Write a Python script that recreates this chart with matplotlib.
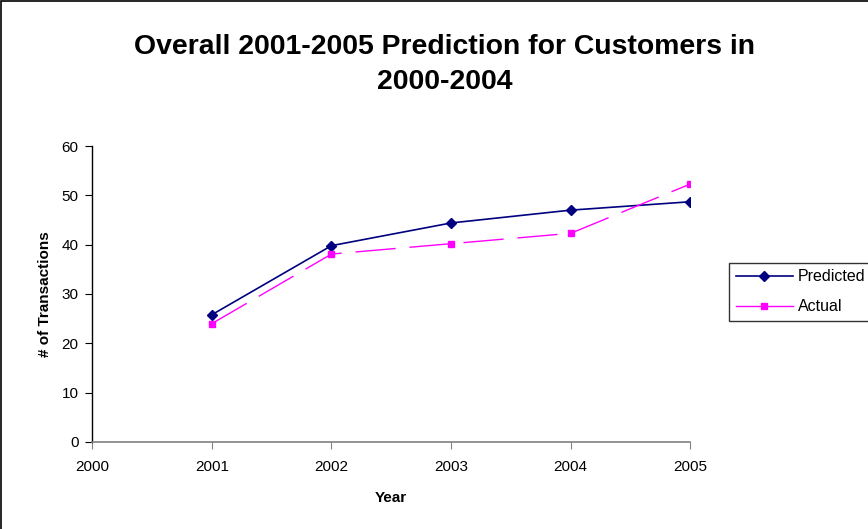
import matplotlib
matplotlib.use("Agg")
import matplotlib.pyplot as plt
from matplotlib.lines import Line2D
from matplotlib.patches import Rectangle

plt.rcParams['font.family'] = ['Liberation Sans', 'DejaVu Sans']

# yearly transaction counts
years = [2001, 2002, 2003, 2004, 2005]
predicted = [25.8, 39.8, 44.4, 47.0, 48.7]
actual = [24.0, 38.1, 40.2, 42.3, 52.3]

x_ticks = [2000, 2001, 2002, 2003, 2004, 2005]
y_ticks = [0, 10, 20, 30, 40, 50, 60]

navy = '#000080'
magenta = '#FF00FF'

fig = plt.figure(figsize=(8.68, 5.29), dpi=100)
ax = fig.add_axes([0.1063, 0.1645, 0.689, 0.5595])

ax.plot(years, predicted, color=navy, lw=1.2, marker='D', ms=5,
        mec=navy, mfc=navy)
ax.plot(years, actual, color=magenta, lw=1.0, marker='s', ms=5,
        mec=magenta, mfc=magenta, dashes=(29, 10))

ax.set_xlim(2000, 2005)
ax.set_ylim(0, 60)
ax.set_xticks(x_ticks)
ax.set_yticks(y_ticks)
ax.tick_params(axis='both', labelsize=11, direction='out', length=5)
ax.tick_params(axis='x', colors='#808080', labelcolor='black', pad=8)
ax.tick_params(axis='y', pad=5)

for side in ('top', 'right'):
    ax.spines[side].set_visible(False)
ax.spines['bottom'].set_color('#808080')
ax.spines['left'].set_color('black')
ax.spines['left'].set_linewidth(1.0)
ax.spines['bottom'].set_linewidth(1.2)

ax.set_xlabel('Year', fontsize=11, fontweight='bold', labelpad=12)
ax.set_ylabel('# of Transactions', fontsize=11, fontweight='bold', labelpad=7)

fig.text(0.512, 0.879, 'Overall 2001-2005 Prediction for Customers in\n2000-2004',
         ha='center', va='center', fontsize=20.4, fontweight='bold',
         linespacing=1.45)

handles = [
    Line2D([], [], color=navy, lw=1.2, marker='D', ms=5),
    Line2D([], [], color=magenta, lw=1.0, marker='s', ms=5),
]
leg = fig.legend(handles, ['Predicted', 'Actual'], loc='upper left',
                 bbox_to_anchor=(0.84, 0.503), fontsize=11.5,
                 frameon=True, fancybox=False, handlelength=3.6,
                 handletextpad=0.3, borderpad=0.4, labelspacing=0.95,
                 borderaxespad=0)
leg.get_frame().set_edgecolor('black')
leg.get_frame().set_linewidth(1.0)

# outer chart border
fig.patches.append(Rectangle((0.0015, -0.01), 1.1, 1.008, transform=fig.transFigure,
                             fill=False, edgecolor='black', lw=1.2, clip_on=False))

fig.savefig('out.png', dpi=100)
